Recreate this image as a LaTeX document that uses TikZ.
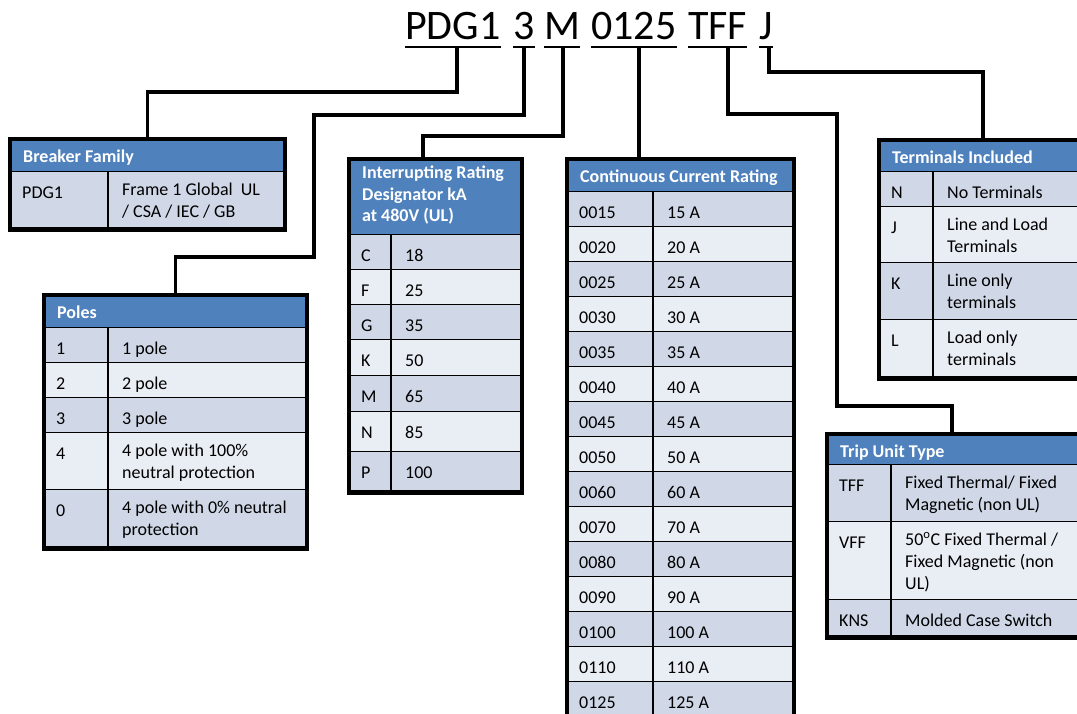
\documentclass[tikz,border=0pt]{standalone}
\usepackage{fontspec}
\setmainfont{Carlito}
\usetikzlibrary{calc}
\definecolor{hdrblue}{HTML}{4F81BD}
\definecolor{rowdark}{HTML}{D0D8E8}
\definecolor{rowlight}{HTML}{E9EDF4}
\tikzset{
  innerline/.style={draw=black, line width=1.8pt},
  frame/.style={draw=black, line width=3.5pt, inner sep=0pt, fill=none, anchor=north west},
  conn/.style={draw=black, line width=3.5pt},
  uline/.style={draw=black, line width=2.6pt},
  celltext/.style={inner sep=0pt, anchor=north west, align=left, text=black,
    font=\fontsize{18}{22}\selectfont, execute at begin node={\rule{0pt}{16pt}}},
  hdrtext/.style={inner sep=0pt, anchor=north west, align=left, text=white,
    font=\fontsize{18}{21.5}\selectfont\bfseries, execute at begin node={\rule{0pt}{16pt}}},
  titletext/.style={inner sep=0pt, anchor=base west, font=\fontsize{42}{50}\selectfont}
}
\newcommand\hdrrow[6]{% name,left,right,top,bottom,text
  \fill[hdrblue] (#2,#4) rectangle (#3,#5);
  \draw[innerline] (#2,#5) -- (#3,#5);
  \node[hdrtext] (#1) at (#2+15,#4+9) {#6};
}
\newcommand\datarow[9]{% name,left,right,top,bottom,div,fill,t1,t2
  \fill[fill=#7] (#2,#4) rectangle (#3,#5);
  \draw[innerline] (#2,#5) -- (#3,#5);
  \draw[innerline] (#6,#4) -- (#6,#5);
  \node[celltext] (#1a) at (#2+14,#4+10.5) {#8};
  \node[celltext] (#1b) at (#6+14,#4+10.5) {#9};
}
\begin{document}
\begin{tikzpicture}[x=1pt,y=-1pt]
\clip (0,0) rectangle (1077,713);
\fill[white] (0,0) rectangle (1077,713);

% ---- title
\node[titletext] (w1) at (405,39) {PDG1};
\node[titletext] (w2) at (513,39) {3};
\node[titletext] (w3) at (544,39) {M};
\node[titletext] (w4) at (591,39) {0125};
\node[titletext] (w5) at (688,39) {TFF};
\node[titletext] (w6) at (759,39) {J};
\coordinate (ul) at (0,47);
\foreach \w in {w1,w2,w3,w4,w5,w6}
  \draw[uline] (\w.west |- ul) -- (\w.east |- ul);

% ---- Breaker Family
\hdrrow{bfh}{8}{283}{137}{172}{Breaker Family}
\datarow{bf1}{8}{283}{172}{228}{108}{rowdark}{PDG1}{Frame 1 Global~ UL\\/ CSA / IEC / GB}
\node[frame, minimum width=275pt, minimum height=91pt] (bf) at (8,137) {};

% ---- Poles
\hdrrow{poh}{42}{305}{293}{328}{Poles}
\datarow{po1}{42}{305}{328}{363}{108}{rowdark}{1}{1 pole}
\datarow{po2}{42}{305}{363}{398}{108}{rowlight}{2}{2 pole}
\datarow{po3}{42}{305}{398}{433}{108}{rowdark}{3}{3 pole}
\datarow{po4}{42}{305}{433}{490}{108}{rowlight}{4}{4 pole with 100\%\\neutral protection}
\datarow{po5}{42}{305}{490}{547}{108}{rowdark}{0}{4 pole with 0\% neutral\\protection}
\node[frame, minimum width=263pt, minimum height=254pt] (po) at (42,293) {};

% ---- Interrupting rating
\hdrrow{irh}{347}{520}{157}{235}{Interrupting Rating\\Designator kA\\at 480V (UL)}
\datarow{ir1}{347}{520}{235}{270}{391}{rowdark}{C}{18}
\datarow{ir2}{347}{520}{270}{305}{391}{rowlight}{F}{25}
\datarow{ir3}{347}{520}{305}{340}{391}{rowdark}{G}{35}
\datarow{ir4}{347}{520}{340}{376}{391}{rowlight}{K}{50}
\datarow{ir5}{347}{520}{376}{412}{391}{rowdark}{M}{65}
\datarow{ir6}{347}{520}{412}{452}{391}{rowlight}{N}{85}
\datarow{ir7}{347}{520}{452}{491}{391}{rowdark}{P}{100}
\node[frame, minimum width=173pt, minimum height=334pt] (ir) at (347,157) {};

% ---- Continuous current rating
\hdrrow{cch}{565}{792}{157}{192}{Continuous Current Rating}
\foreach \c/\a [count=\i from 0] in {0015/15 A,0020/20 A,0025/25 A,0030/30 A,0035/35 A,
    0040/40 A,0045/45 A,0050/50 A,0060/60 A,0070/70 A,0080/80 A,0090/90 A,0100/100 A,
    0110/110 A,0125/125 A}{
  \pgfmathsetmacro\tp{192+35*\i}
  \pgfmathsetmacro\bt{227+35*\i}
  \ifodd\i\def\rf{rowlight}\else\def\rf{rowdark}\fi
  \datarow{cc\i}{565}{792}{\tp}{\bt}{653}{\rf}{\c}{\a}
}
\node[frame, minimum width=227pt, minimum height=560pt] (cc) at (565,157) {};

% ---- Terminals included
\hdrrow{tth}{877}{1090}{138}{172}{Terminals Included}
\datarow{tt1}{877}{1090}{172}{207}{933}{rowdark}{N}{No Terminals}
\datarow{tt2}{877}{1090}{207}{263}{933}{rowlight}{J}{Line and Load\\Terminals}
\datarow{tt3}{877}{1090}{263}{320}{933}{rowdark}{K}{Line only\\terminals}
\datarow{tt4}{877}{1090}{320}{377}{933}{rowlight}{L}{Load only\\terminals}
\node[frame, minimum width=213pt, minimum height=239pt] (tt) at (877,138) {};

% ---- Trip unit type
\hdrrow{tuh}{825}{1090}{432}{465}{Trip Unit Type}
\datarow{tu1}{825}{1090}{465}{522}{891}{rowdark}{TFF}{Fixed Thermal/ Fixed\\Magnetic (non UL)}
\datarow{tu2}{825}{1090}{522}{600}{891}{rowlight}{VFF}{50\textsuperscript{o}C Fixed Thermal /\\Fixed Magnetic (non\\UL)}
\datarow{tu3}{825}{1090}{600}{636}{891}{rowdark}{KNS}{Molded Case Switch}
\node[frame, minimum width=265pt, minimum height=204pt] (tu) at (825,432) {};

% ---- connectors
\coordinate (u1) at (457,47);
\coordinate (u2) at (524,47);
\coordinate (u3) at (563,47);
\coordinate (u4) at (639,47);
\coordinate (u5) at (728,47);
\coordinate (u6) at (769,47);
\coordinate (k2) at (314,257);
\coordinate (k5a) at (837,114);
\coordinate (k5b) at (837,406);
\draw[conn] (u1) -- ++(0,45) -| (bf.north);
\draw[conn] (u2) -- ++(0,68) -| (k2) -| (po.north);
\draw[conn] (u3) -- ++(0,89) -| ([xshift=76pt]ir.north west);
\draw[conn] (u4) -- (u4 |- cc.north);
\draw[conn] (u5) |- (k5a) -- (k5b) -| ([xshift=127pt]tu.north west);
\draw[conn] (u6) -- ++(0,25) -| ([xshift=106pt]tt.north west);
\end{tikzpicture}
\end{document}
